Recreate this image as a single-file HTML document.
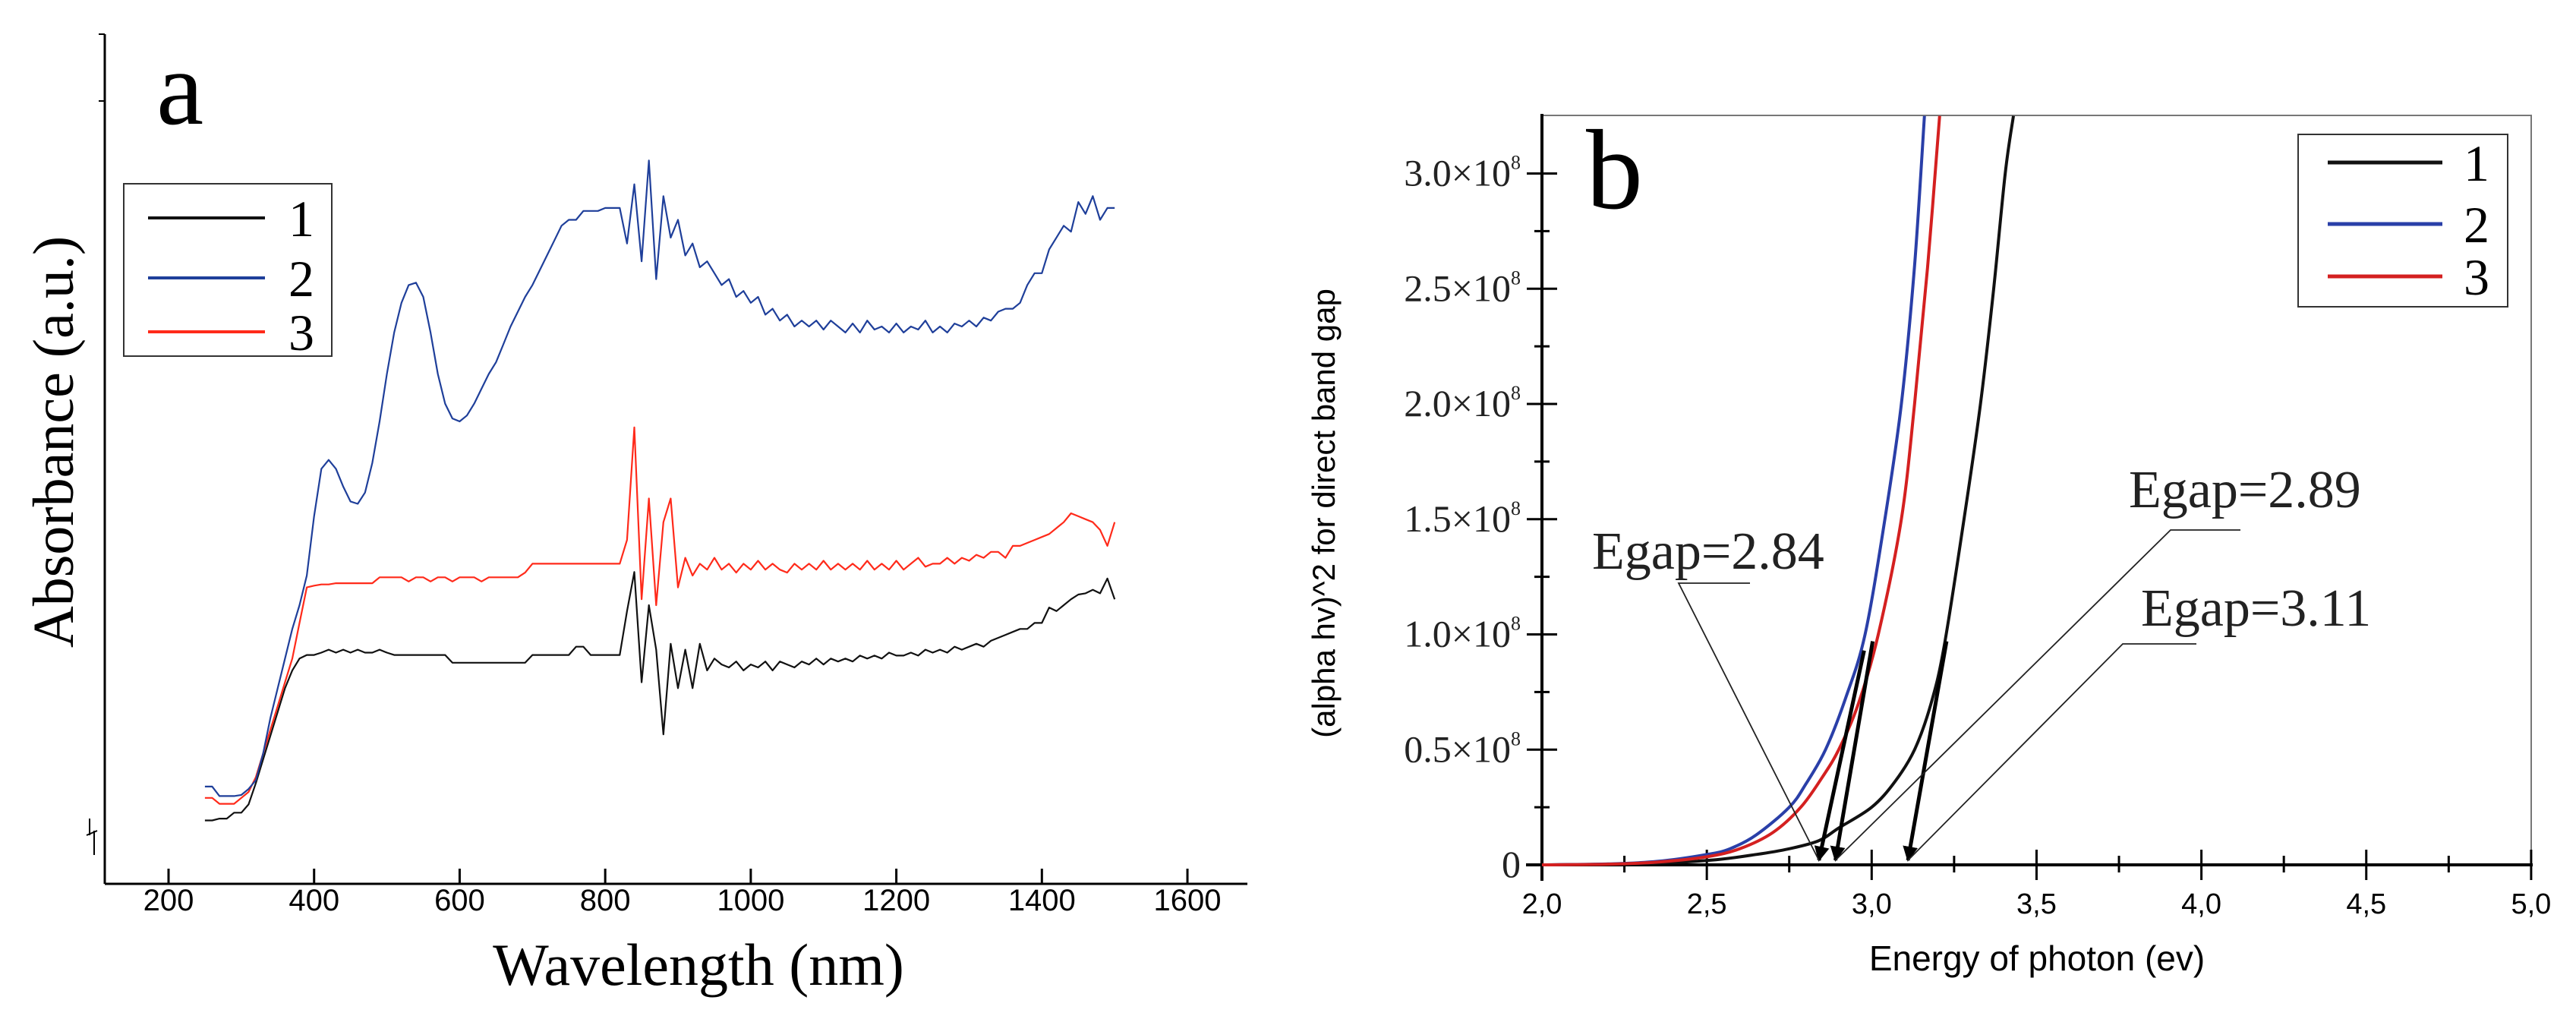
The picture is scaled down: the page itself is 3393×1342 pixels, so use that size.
<!DOCTYPE html>
<html><head><meta charset="utf-8"><style>
html,body{margin:0;padding:0;background:#fff;}
svg{display:block;}
.serif{font-family:"Liberation Serif",serif;}
.sans{font-family:"Liberation Sans",sans-serif;}
</style></head><body>
<svg id="fig" width="3393" height="1342" viewBox="0 0 3393 1342" xmlns="http://www.w3.org/2000/svg">
<rect width="3393" height="1342" fill="#fff"/>
<g id="pa"></g>
<g id="pb"></g>
</svg>
<script>
// ---------- Panel a data ----------
const wlStart = 250, wlStep = 10;
const absBlue = [16.4,16.4,14.8,14.8,14.8,15,16,17.5,
22,28,33,38,43,47,52,62,
70,71.5,70,67,64.5,64.1,66,71,
78,86,93,98,101,101.4,99,93,
86,81,78.5,78,79,81,83.5,86,
88,91,94,96.5,99,101,103.5,106,
108.5,111,112,112,113.5,113.5,113.5,114,
114,114,108,118,105,122,102,116,
109,112,106,108,104,105,103,101,
102,99,100,98,99,96,97,95,
96,94,95,94,95,93.5,95,94,
93,94.5,93,95,93.5,94,93,94.5,
93,94,93.5,95,93,94,93,94.5,
94,95,94,95.5,95,96.5,97,97,
98,101,103,103,107,109,111,110,
115,113,116,112,114,114];
const absRed = [14.5,14.5,13.5,13.5,13.5,14.5,15.5,18,
22,26,30,34,38,44,50,50.3,
50.5,50.5,50.7,50.7,50.7,50.7,50.7,50.7,
51.7,51.7,51.7,51.7,51,51.7,51.7,51,
51.7,51.7,51,51.7,51.7,51.7,51,51.7,
51.7,51.7,51.7,51.7,52.5,54,54,54,
54,54,54,54,54,54,54,54,
54,54,58,77,48,65,47,61,
65,50,55,52,54,53,55,53,
54,52.5,54,53,54.5,53,54,53,
52.5,54,53,54,53,54.5,53,54,
53,54,53,54.5,53,54,53,54.5,
53,54,55,53.5,54,54,55,54,
55,54.5,55.5,55,56,56,55,57,
57,57.5,58,58.5,59,60,61,62.5,
62,61.5,61,59.7,57,61];
const absBlack = [10.7,10.7,11,11,12,12,13.4,17,
21,25,29,33,36,38,38.6,38.6,
39,39.5,39,39.5,39,39.5,39,39,
39.5,39,38.6,38.6,38.6,38.6,38.6,38.6,
38.6,38.6,37.3,37.3,37.3,37.3,37.3,37.3,
37.3,37.3,37.3,37.3,37.3,38.6,38.6,38.6,
38.6,38.6,38.6,40,40,38.6,38.6,38.6,
38.6,38.6,46,52.6,34,47,39.5,25.2,
40.5,33,39.5,33,40.5,36,38,37,
36.5,37.5,36,37,36.5,37.5,36,37.5,
37,36.5,37.5,37,38,37,38,37.5,
38,37.5,38.5,38,38.5,38,39,38.5,
38.5,39,38.5,39.5,39,39.5,39,40,
39.5,40,40.5,40,41,41.5,42,42.5,
43,43,44,44,46.6,46,47,48,
48.8,49,49.6,49,51.5,48];
const wlTicks = [200,400,600,800,1000,1200,1400,1600];

// ---------- Panel b data ----------
const eBlue = [2.0,2.2,2.35,2.5,2.57,2.65,2.75,2.8,2.86,2.92,2.98,3.04,3.09,3.13,3.16];
const vBlue = [0,0.004,0.015,0.045,0.07,0.13,0.25,0.35,0.5,0.72,1.0,1.5,2.0,2.6,3.25];
const eRed = [2.0,2.2,2.35,2.5,2.6,2.7,2.785,2.85,2.9,2.96,3.02,3.09,3.13,3.17,3.206];
const vRed = [0,0.003,0.012,0.035,0.07,0.14,0.25,0.38,0.5,0.7,1.0,1.5,2.0,2.6,3.25];
const eBlack = [2.0,2.3,2.51,2.65,2.75,2.84,2.9,3.0,3.07,3.13,3.18,3.22,3.28,3.33,3.37,3.405,3.43];
const vBlack = [0,0.005,0.02,0.045,0.07,0.105,0.16,0.25,0.36,0.5,0.7,0.95,1.5,2.0,2.5,3.0,3.25];
const eTicks = ["2,0","2,5","3,0","3,5","4,0","4,5","5,0"];
const yTicksB = ["0","0.5","1.0","1.5","2.0","2.5","3.0"];
const egapValues = [2.84, 2.89, 3.11];
const egapLabels = ["Egap=2.84","Egap=2.89","Egap=3.11"];

const NS = "http://www.w3.org/2000/svg";
function mk(parent, tag, attrs, text){
  const el = document.createElementNS(NS, tag);
  for (const k in attrs) el.setAttribute(k, attrs[k]);
  if (text !== undefined) el.textContent = text;
  parent.appendChild(el);
  return el;
}

// ---------- Panel a ----------
const pa = document.getElementById('pa');
const ax = w => 222 + (w - 200) * 0.9586;
const ay = v => 1164 - 7.808 * v;
let e;
e = mk(pa,'line',{x1:138,y1:45,x2:138,y2:1164,stroke:'#000','stroke-width':3});
 
e = mk(pa,'line',{x1:138,y1:1164,x2:1643,y2:1164,stroke:'#000','stroke-width':3});
 
mk(pa,'line',{x1:130,y1:45,x2:138,y2:45,stroke:'#000','stroke-width':2});
mk(pa,'line',{x1:130,y1:133,x2:138,y2:133,stroke:'#000','stroke-width':2});
// axis break mark
mk(pa,'path',{d:'M118 1078 L118 1100 M124 1094 L124 1126 M114 1100 L128 1094',stroke:'#000','stroke-width':2,fill:'none'});
wlTicks.forEach(t=>{
  const x = ax(t);
  const tk = mk(pa,'line',{x1:x,y1:1164,x2:x,y2:1144,stroke:'#000','stroke-width':3});
   
  const lb = mk(pa,'text',{x:x,y:1199,'text-anchor':'middle','font-size':40,class:'sans'},String(t));
   
});
function seriesA(arr, color, name){
  const pts = arr.map((v,i)=> ax(wlStart + i*wlStep).toFixed(1)+','+ay(v).toFixed(1)).join(' ');
  const pl = mk(pa,'polyline',{points:pts,fill:'none',stroke:color,'stroke-width':2.2,'stroke-linejoin':'round'});
   
}
seriesA(absBlack,'#111','series-1-absorbance');
seriesA(absRed,'#ff2a1a','series-3-absorbance');
seriesA(absBlue,'#1f3f9a','series-2-absorbance');
e = mk(pa,'text',{x:206,y:163,'font-size':140,class:'serif'},'a');
 
e = mk(pa,'text',{x:920,y:1297,'text-anchor':'middle','font-size':78,class:'serif'},'Wavelength (nm)');
 
e = mk(pa,'text',{x:0,y:0,'text-anchor':'middle','font-size':76,class:'serif',transform:'translate(96,582) rotate(-90)'},'Absorbance (a.u.)');
 
// legend a
const lga = mk(pa,'g',{});
 
mk(lga,'rect',{x:163,y:242,width:274,height:227,fill:'#fff',stroke:'#333','stroke-width':2});
[['1','#111',287],['2','#1f3f9a',366],['3','#ff2a1a',437]].forEach(r=>{
  const g = mk(lga,'g',{});
   
  mk(g,'line',{x1:195,y1:r[2],x2:349,y2:r[2],stroke:r[1],'stroke-width':4});
  mk(g,'text',{x:380,y:r[2]+24,'font-size':68,class:'serif'},r[0]);
});

// ---------- Panel b ----------
const pb = document.getElementById('pb');
const bx = E => 2031 + (E - 2.0) * 434.3;
const by = v => 1139 - v * 303.5;
e = mk(pb,'rect',{x:2031,y:152,width:1303,height:987,fill:'none',stroke:'#777','stroke-width':2});
 
e = mk(pb,'line',{x1:2031,y1:150,x2:2031,y2:1160,stroke:'#000','stroke-width':4});
 
e = mk(pb,'line',{x1:2010,y1:1139,x2:3336,y2:1139,stroke:'#000','stroke-width':4});
 
for (let i=0;i<=12;i++){
  const E = 2 + i*0.25, x = bx(E), maj = i%2===0;
  mk(pb,'line',{x1:x,y1:1139-(maj?20:12),x2:x,y2:1139+(maj?20:10),stroke:'#000','stroke-width':3});
}
eTicks.forEach((t,i)=>{
  const lb = mk(pb,'text',{x:bx(2+i*0.5),y:1203,'text-anchor':'middle','font-size':38,class:'sans'},t);
   
});
for (let i=0;i<=12;i++){
  const y = by(i*0.25), maj = i%2===0;
  mk(pb,'line',{x1:2031-(maj?20:10),y1:y,x2:2031+(maj?20:10),y2:y,stroke:'#000','stroke-width':3});
}
yTicksB.forEach((t,i)=>{
  const y = by(i*0.5);
  const lb = mk(pb,'text',{x:2003,y:y+16,'text-anchor':'end','font-size':50,class:'serif',fill:'#222'});
   
  if (t==='0'){ lb.textContent='0'; }
  else {
    lb.appendChild(document.createTextNode(t+'\u00d710'));
    const s = document.createElementNS(NS,'tspan');
    s.setAttribute('font-size','26'); s.setAttribute('dy','-22'); s.textContent='8';
    lb.appendChild(s);
  }
});
function smoothPath(xs, ys){
  let d = 'M'+xs[0].toFixed(1)+' '+ys[0].toFixed(1);
  for (let i=0;i<xs.length-1;i++){
    const x0=xs[Math.max(0,i-1)], y0=ys[Math.max(0,i-1)];
    const x1=xs[i], y1=ys[i], x2=xs[i+1], y2=ys[i+1];
    const x3=xs[Math.min(xs.length-1,i+2)], y3=ys[Math.min(xs.length-1,i+2)];
    const c1x=x1+(x2-x0)/6, c1y=y1+(y2-y0)/6, c2x=x2-(x3-x1)/6, c2y=y2-(y3-y1)/6;
    d += ' C'+c1x.toFixed(1)+' '+c1y.toFixed(1)+' '+c2x.toFixed(1)+' '+c2y.toFixed(1)+' '+x2.toFixed(1)+' '+y2.toFixed(1);
  }
  return d;
}
function seriesB(es, vs, color, name){
  const p = mk(pb,'path',{d:smoothPath(es.map(bx), vs.map(by)),fill:'none',stroke:color,'stroke-width':4});
   
}
seriesB(eBlack,vBlack,'#111','series-1-tauc');
seriesB(eBlue,vBlue,'#2a3fa8','series-2-tauc');
seriesB(eRed,vRed,'#d42020','series-3-tauc');
// arrows (tangent extrapolations)
mk(pb,'defs',{}).innerHTML='<marker id="ah" viewBox="0 0 10 10" refX="9" refY="5" markerWidth="4" markerHeight="6" orient="auto"><path d="M0 0 L10 5 L0 10 z" fill="#000"/></marker>';
const tanStartE = [2.977, 3.003, 3.227];
const tanStartV = [0.93, 0.97, 0.97];
const gapOrder = [0, 1, 2];
gapOrder.forEach(i=>{
  const a = mk(pb,'line',{x1:bx(tanStartE[i]),y1:by(tanStartV[i]),x2:bx(egapValues[i]),y2:by(0.02),stroke:'#000','stroke-width':5,'marker-end':'url(#ah)'});
   
});
// labels & leaders
const lbl = [[2097,749,2211,2305,768],[2804,668,2859,2951,698],[2820,824,2796,2893,848]];
egapLabels.forEach((t,i)=>{
  const L = lbl[i];
  const tx = mk(pb,'text',{x:L[0],y:L[1],'font-size':70,class:'serif',fill:'#222'},t);
   
  const ld = mk(pb,'polyline',{points:L[3]+','+L[4]+' '+L[2]+','+L[4]+' '+bx(egapValues[i]).toFixed(1)+','+(by(0)-6),fill:'none',stroke:'#222','stroke-width':1.8});
   
});
e = mk(pb,'text',{x:2089,y:274,'font-size':150,class:'serif'},'b');
 
e = mk(pb,'text',{x:2683,y:1278,'text-anchor':'middle','font-size':46,class:'sans'},'Energy of photon (ev)');
 
e = mk(pb,'text',{x:0,y:0,'text-anchor':'middle','font-size':42,class:'sans',transform:'translate(1758,676) rotate(-90)','xml:space':'preserve'},'(alpha hv)^2  for direct band gap');
 
const lgb = mk(pb,'g',{});
 
mk(lgb,'rect',{x:3027,y:177,width:276,height:227,fill:'#fff',stroke:'#333','stroke-width':2});
[['1','#111',214],['2','#2a3fa8',295],['3','#d42020',364]].forEach(r=>{
  const g = mk(lgb,'g',{});
   
  mk(g,'line',{x1:3066,y1:r[2],x2:3217,y2:r[2],stroke:r[1],'stroke-width':5});
  mk(g,'text',{x:3245,y:r[2]+24,'font-size':68,class:'serif'},r[0]);
});
</script>
</body></html>
